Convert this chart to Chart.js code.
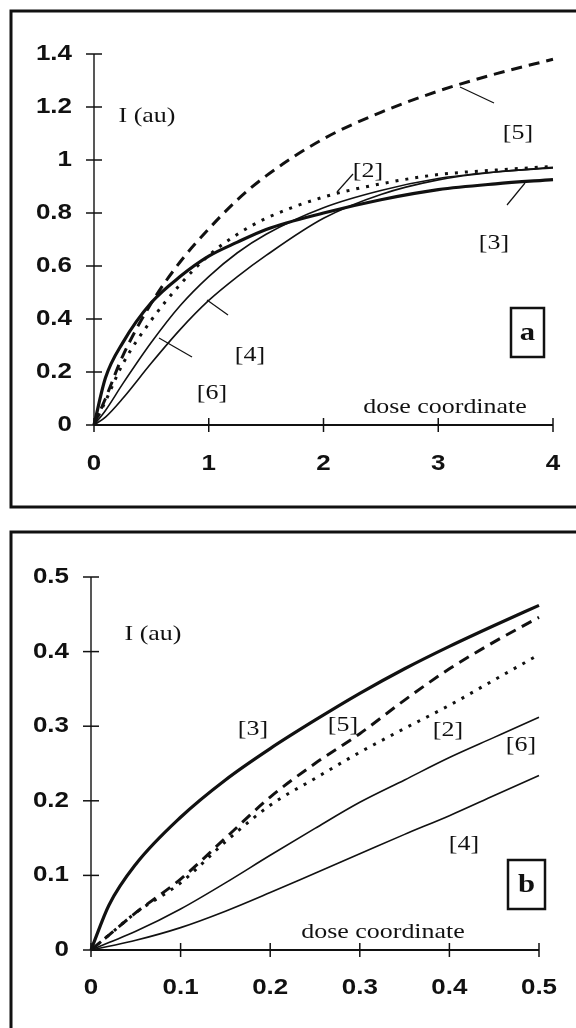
<!DOCTYPE html>
<html>
<head>
<meta charset="utf-8">
<script src="https://cdn.jsdelivr.net/npm/chart.js@4.4.1/dist/chart.umd.min.js"></script>
<style>
  body { margin: 0; background: #fff; }
  #wrap { position: relative; width: 576px; height: 1028px; overflow: hidden; background: #fff; }
  canvas { position: absolute; left: 0; }
</style>
</head>
<body>
<div id="wrap">
  <canvas id="panelA" width="576" height="520" style="top:0px"></canvas>
  <canvas id="panelB" width="576" height="508" style="top:520px"></canvas>
</div>
<script>
// panel a : dose 0..4
const doseA = [0, 0.1, 0.25, 0.5, 0.75, 1, 1.25, 1.5, 2, 2.5, 3, 3.5, 4];
const curve2A = [0, 0.09, 0.23, 0.396, 0.53, 0.64, 0.72, 0.78, 0.86, 0.91, 0.945, 0.962, 0.976];
const curve3A = [0, 0.178, 0.31, 0.462, 0.56, 0.637, 0.69, 0.738, 0.80, 0.85, 0.888, 0.91, 0.926];
const curve4A = [0, 0.03, 0.10, 0.234, 0.36, 0.47, 0.56, 0.64, 0.78, 0.87, 0.925, 0.955, 0.97];
const curve5A = [0, 0.1, 0.26, 0.46, 0.615, 0.74, 0.85, 0.94, 1.08, 1.18, 1.26, 1.325, 1.38];
const curve6A = [0, 0.055, 0.155, 0.312, 0.45, 0.56, 0.65, 0.72, 0.82, 0.885, 0.93, 0.955, 0.972];
const xTicksA = [0, 1, 2, 3, 4];
const yTicksA = [0, 0.2, 0.4, 0.6, 0.8, 1, 1.2, 1.4];

// panel b : dose 0..0.5
const doseB = [0, 0.02, 0.05, 0.1, 0.15, 0.2, 0.25, 0.3, 0.35, 0.4, 0.45, 0.5];
const curve2B = [0, 0.02, 0.05, 0.09, 0.145, 0.194, 0.23, 0.265, 0.297, 0.328, 0.362, 0.396];
const curve3B = [0, 0.06, 0.115, 0.178, 0.228, 0.27, 0.308, 0.344, 0.377, 0.407, 0.435, 0.462];
const curve4B = [0, 0.005, 0.013, 0.03, 0.052, 0.077, 0.103, 0.129, 0.155, 0.18, 0.207, 0.234];
const curve5B = [0, 0.02, 0.05, 0.095, 0.15, 0.205, 0.25, 0.29, 0.335, 0.377, 0.413, 0.446];
const curve6B = [0, 0.01, 0.025, 0.055, 0.09, 0.127, 0.163, 0.198, 0.228, 0.258, 0.285, 0.312];
const xTicksB = [0, 0.1, 0.2, 0.3, 0.4, 0.5];
const yTicksB = [0, 0.1, 0.2, 0.3, 0.4, 0.5];

const INK = '#111';

function pts(xs, ys) {
  return xs.map((x, i) => ({x: x, y: ys[i]}));
}

// text a bit wider than the font, like the scanned figure
function wideText(ctx, text, x, y, font, align) {
  ctx.save();
  ctx.translate(x, y);
  ctx.scale(1.18, 1);
  ctx.font = font;
  ctx.fillStyle = INK;
  ctx.textAlign = align || 'center';
  ctx.textBaseline = 'middle';
  ctx.fillText(text, 0, 0);
  ctx.restore();
}

function seg(ctx, x0, y0, x1, y1, w) {
  ctx.save();
  ctx.strokeStyle = INK;
  ctx.lineWidth = w;
  ctx.beginPath();
  ctx.moveTo(x0, y0);
  ctx.lineTo(x1, y1);
  ctx.stroke();
  ctx.restore();
}

const SERIF = '22px "Liberation Serif", "DejaVu Serif", serif';
const TICKFONT = 'bold 22px "Liberation Sans", Arial, sans-serif';

function figurePlugin(opts) {
  return {
    id: 'figure',
    beforeDraw(chart) {
      const ctx = chart.ctx;
      ctx.save();
      ctx.fillStyle = '#fff';
      ctx.fillRect(0, 0, chart.width, chart.height);
      ctx.strokeStyle = INK;
      ctx.lineWidth = 3;
      ctx.strokeRect(opts.box[0], opts.box[1], opts.box[2], opts.box[3]);
      ctx.restore();
    },
    afterDraw(chart) {
      const ctx = chart.ctx;
      const xs = chart.scales.x, ys = chart.scales.y;
      const x0 = xs.getPixelForValue(0), y0 = ys.getPixelForValue(0);
      const xEnd = xs.getPixelForValue(opts.xTicks[opts.xTicks.length - 1]);
      const yEnd = ys.getPixelForValue(opts.yTicks[opts.yTicks.length - 1]);
      // axes
      seg(ctx, x0, y0, x0, yEnd, 1.4);
      seg(ctx, x0, y0, xEnd, y0, 2);
      opts.yTicks.forEach(v => {
        const py = ys.getPixelForValue(v);
        seg(ctx, x0 - 8, py, x0 + 8, py, 1.5);
        wideText(ctx, String(v), x0 - 22, py, TICKFONT, 'right');
      });
      opts.xTicks.forEach(v => {
        const px = xs.getPixelForValue(v);
        seg(ctx, px, y0 - 7, px, y0 + 7, 1.5);
        wideText(ctx, String(v), px, y0 + opts.xLabelGap, TICKFONT, 'center');
      });
      // notes
      opts.notes.forEach(n => wideText(ctx, n[0], n[1], n[2], SERIF, 'center'));
      opts.pointers.forEach(p => seg(ctx, p[0], p[1], p[2], p[3], 1.2));
      // panel letter box
      const b = opts.letterBox;
      ctx.save();
      ctx.strokeStyle = INK;
      ctx.lineWidth = 2.5;
      ctx.strokeRect(b[0], b[1], b[2], b[3]);
      ctx.restore();
      wideText(ctx, opts.letter, b[0] + b[2] / 2, b[1] + b[3] / 2 + 1,
        'bold 26px "Liberation Serif", serif', 'center');
    }
  };
}

function makePanel(id, xs, series, cfg) {
  const styles = [
    {w: 3, dash: [3, 7]},      // [2] dotted
    {w: 3.2, dash: []},        // [3] thick solid
    {w: 1.6, dash: []},        // [4] thin
    {w: 3, dash: [11, 7]},     // [5] dashed
    {w: 1.6, dash: []}         // [6] thin
  ];
  const names = ['[2]', '[3]', '[4]', '[5]', '[6]'];
  const datasets = series.map((ys, i) => ({
    label: names[i],
    data: pts(xs, ys),
    borderColor: INK,
    borderWidth: styles[i].w,
    borderDash: styles[i].dash,
    pointRadius: 0,
    cubicInterpolationMode: 'monotone',
    fill: false,
    clip: false
  }));
  return new Chart(document.getElementById(id).getContext('2d'), {
    type: 'line',
    data: {datasets: datasets},
    options: {
      responsive: false,
      animation: false,
      events: [],
      layout: {padding: cfg.padding},
      plugins: {legend: {display: false}, tooltip: {enabled: false}},
      scales: {
        x: {type: 'linear', min: 0, max: cfg.xTicks[cfg.xTicks.length - 1], display: false},
        y: {type: 'linear', min: 0, max: cfg.yTicks[cfg.yTicks.length - 1], display: false}
      }
    },
    plugins: [figurePlugin(cfg)]
  });
}

makePanel('panelA', doseA, [curve2A, curve3A, curve4A, curve5A, curve6A], {
  padding: {left: 94, right: 23, top: 54, bottom: 95},
  xTicks: xTicksA, yTicks: yTicksA, xLabelGap: 39,
  box: [11, 11, 580, 496],
  letter: 'a', letterBox: [511, 308, 33, 49],
  notes: [['I (au)', 147, 116], ['[5]', 518, 133], ['[2]', 368, 171], ['[3]', 494, 243],
          ['[4]', 250, 355], ['[6]', 212, 393], ['dose coordinate', 445, 407]],
  pointers: [[494, 103, 460, 87], [337, 192, 353, 174], [507, 205, 525, 183],
             [228, 315, 207, 300], [192, 357, 159, 338]]
});

makePanel('panelB', doseB, [curve2B, curve3B, curve4B, curve5B, curve6B], {
  padding: {left: 91, right: 37, top: 57, bottom: 78},
  xTicks: xTicksB, yTicks: yTicksB, xLabelGap: 38,
  box: [11, 12, 580, 520],
  letter: 'b', letterBox: [508, 340, 37, 49],
  notes: [['I (au)', 153, 114], ['[3]', 253, 209], ['[5]', 343, 205], ['[2]', 448, 210],
          ['[6]', 521, 225], ['[4]', 464, 324], ['dose coordinate', 383, 412]],
  pointers: []
});
</script>
</body>
</html>
